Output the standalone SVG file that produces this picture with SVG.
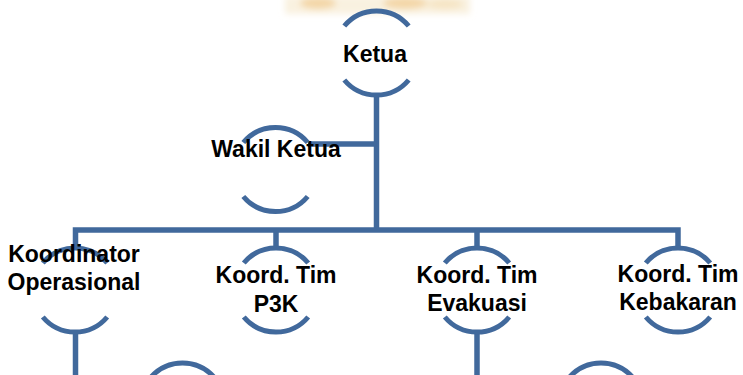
<svg xmlns="http://www.w3.org/2000/svg" xmlns:xlink="http://www.w3.org/1999/xlink" width="743" height="375" viewBox="0 0 743 375">
  <style>
    .arc { fill: none; stroke: #41699C; stroke-width: 5; }
    .conn { fill: none; stroke: #41699C; stroke-width: 5.5; stroke-linejoin: miter; }
    .lbl { font-family: "Liberation Sans", Arial, sans-serif; font-weight: bold; font-size: 23px; fill: #000; text-anchor: middle; }
  </style>
  <defs>
    <g id="ring">
      <path class="arc" d="M-32.2,-27 A42,42 0 0 1 32.2,-27"/>
      <path class="arc" d="M-32.2,27 A42,42 0 0 0 32.2,27"/>
    </g>
    <filter id="blur" x="-20%" y="-100%" width="140%" height="300%">
      <feGaussianBlur stdDeviation="3"/>
    </filter>
  </defs>
  <rect width="743" height="375" fill="#fff"/>
  <g id="watermark" filter="url(#blur)">
    <rect x="285" y="-4" width="185" height="18" fill="#F7EBD3" opacity="0.7"/>
    <ellipse cx="318" cy="3" rx="18" ry="6" fill="#F0C482" opacity="0.6"/>
    <ellipse cx="405" cy="3" rx="22" ry="6" fill="#F0C482" opacity="0.6"/>
    <ellipse cx="445" cy="4" rx="18" ry="5" fill="#F3D9A8" opacity="0.5"/>
  </g>
  <g id="connectors">
    <path class="conn" d="M376.5,95 V230"/>
    <path class="conn" d="M308,144 H376.5"/>
    <path class="conn" d="M75.5,248 V230 H678 V248"/>
    <path class="conn" d="M276,230 V248"/>
    <path class="conn" d="M477,230 V248"/>
    <path class="conn" d="M75.5,332 V375"/>
    <path class="conn" d="M477,332 V375"/>
  </g>
  <g id="ketua">
    <use xlink:href="#ring" href="#ring" x="376.5" y="53"/>
    <text class="lbl" x="375" y="62">Ketua</text>
  </g>
  <g id="wakil-ketua">
    <use xlink:href="#ring" href="#ring" x="275.5" y="169.5"/>
    <text class="lbl" x="276" y="157">Wakil Ketua</text>
  </g>
  <g id="koordinator-operasional">
    <use xlink:href="#ring" href="#ring" x="75" y="290"/>
    <text class="lbl" x="74" y="262">Koordinator</text>
    <text class="lbl" x="74" y="290">Operasional</text>
  </g>
  <g id="koord-p3k">
    <use xlink:href="#ring" href="#ring" x="276" y="290"/>
    <text class="lbl" x="276" y="283">Koord. Tim</text>
    <text class="lbl" x="276" y="312">P3K</text>
  </g>
  <g id="koord-evakuasi">
    <use xlink:href="#ring" href="#ring" x="477" y="290"/>
    <text class="lbl" x="477" y="283">Koord. Tim</text>
    <text class="lbl" x="477" y="311">Evakuasi</text>
  </g>
  <g id="koord-kebakaran">
    <use xlink:href="#ring" href="#ring" x="678" y="290"/>
    <text class="lbl" x="678" y="282">Koord. Tim</text>
    <text class="lbl" x="678" y="310">Kebakaran</text>
  </g>
  <g id="node-bottom-left">
    <use xlink:href="#ring" href="#ring" x="182.5" y="405"/>
  </g>
  <g id="node-bottom-right">
    <use xlink:href="#ring" href="#ring" x="601" y="405"/>
  </g>
</svg>
